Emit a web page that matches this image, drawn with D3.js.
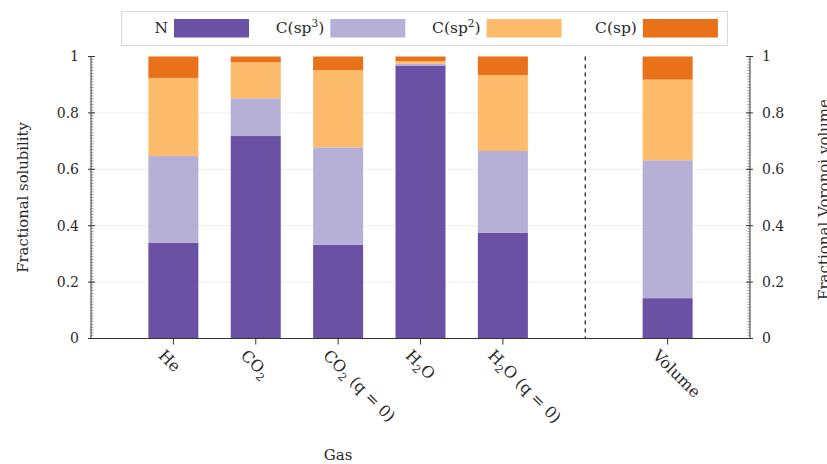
<!DOCTYPE html>
<html>
<head>
<meta charset="utf-8">
<script src="https://cdn.jsdelivr.net/npm/d3@7"></script>
<style>
  html, body { margin: 0; padding: 0; background: #fff; }
  svg { display: block; }
  text { font-family: "DejaVu Serif", "Liberation Serif", serif; fill: #2a2a2a; }
</style>
</head>
<body>
<svg id="chart" width="827" height="464"></svg>
<script>
// Gas categories (slot 5 is left empty for the dashed separator)
const categories = ["He", "CO2", "CO2 (q = 0)", "H2O", "H2O (q = 0)", "Volume"];
const slots = [0, 1, 2, 3, 4, 6];
const separatorSlot = 5;

// Series: fractional contribution of each site type
const seriesKeys = ["N", "Csp3", "Csp2", "Csp"];
const N    = [0.340, 0.718, 0.332, 0.968, 0.375, 0.143];
const Csp3 = [0.307, 0.134, 0.346, 0.006, 0.290, 0.489];
const Csp2 = [0.277, 0.127, 0.274, 0.010, 0.269, 0.286];
const Csp  = [0.076, 0.021, 0.048, 0.016, 0.066, 0.082];

const yTicks = [0, 0.2, 0.4, 0.6, 0.8, 1];
const colors = ["#6a51a3", "#b6b0d6", "#fdbb6c", "#e8711a"];

const svg = d3.select("#chart");
const plotLeft = 91, plotRight = 750, plotTop = 56.5, plotBottom = 338.5;

const x = d3.scaleLinear().domain([-1, 7]).range([plotLeft, plotRight]);
const y = d3.scaleLinear().domain([0, 1]).range([plotBottom, plotTop]);
const barW = x(0.607) - x(0);

// Faint horizontal grid
svg.append("g").selectAll("line")
  .data(yTicks.filter(d => d > 0 && d < 1))
  .join("line")
  .attr("x1", plotLeft).attr("x2", plotRight)
  .attr("y1", d => y(d)).attr("y2", d => y(d))
  .attr("stroke", "#eeeeee").attr("stroke-width", 1);

// Stacked bars
const rows = categories.map((c, i) => ({
  cat: c, slot: slots[i], N: N[i], Csp3: Csp3[i], Csp2: Csp2[i], Csp: Csp[i]
}));
const stacked = d3.stack().keys(seriesKeys)(rows);

svg.append("g").selectAll("g")
  .data(stacked)
  .join("g")
  .attr("fill", (d, i) => colors[i])
  .selectAll("rect")
  .data(d => d)
  .join("rect")
  .attr("x", d => x(d.data.slot) - barW / 2)
  .attr("width", barW)
  .attr("y", d => y(d[1]))
  .attr("height", d => y(d[0]) - y(d[1]));

// Dashed separator
svg.append("line")
  .attr("x1", x(separatorSlot)).attr("x2", x(separatorSlot))
  .attr("y1", y(1)).attr("y2", y(0))
  .attr("stroke", "#111").attr("stroke-width", 1.2)
  .attr("stroke-dasharray", "4,4");

// Left and right axes with dense minor ticks
const minor = d3.range(0, 1.0001, 0.01);
function drawYAxis(xPos, dir, labelSide) {
  const g = svg.append("g");
  g.append("line").attr("x1", xPos).attr("x2", xPos)
    .attr("y1", y(1)).attr("y2", y(0)).attr("stroke", "#333").attr("stroke-width", 1);
  g.selectAll("line.minor").data(minor).join("line").attr("class", "minor")
    .attr("x1", xPos).attr("x2", xPos + dir * 2.5)
    .attr("y1", d => y(d)).attr("y2", d => y(d))
    .attr("stroke", "#555").attr("stroke-width", 0.6);
  g.selectAll("line.major").data(yTicks).join("line").attr("class", "major")
    .attr("x1", xPos - dir * 3).attr("x2", xPos + dir * 4)
    .attr("y1", d => y(d)).attr("y2", d => y(d))
    .attr("stroke", "#333").attr("stroke-width", 1);
  g.selectAll("text").data(yTicks).join("text")
    .attr("x", xPos + labelSide * 12)
    .attr("y", d => y(d))
    .attr("dy", "0.35em")
    .attr("text-anchor", labelSide < 0 ? "end" : "start")
    .attr("font-size", 14)
    .text(d => d3.format("~g")(d));
}
drawYAxis(plotLeft, 1, -1);
drawYAxis(plotRight, -1, 1);

// Bottom axis
svg.append("line").attr("x1", plotLeft).attr("x2", plotRight)
  .attr("y1", plotBottom).attr("y2", plotBottom).attr("stroke", "#333");
svg.append("g").selectAll("line").data(slots).join("line")
  .attr("x1", d => x(d)).attr("x2", d => x(d))
  .attr("y1", plotBottom).attr("y2", plotBottom + 6)
  .attr("stroke", "#333");

// Rotated category labels with chemical subscripts
function addLabel(t, cat) {
  if (cat.startsWith("CO2")) {
    t.append("tspan").text("CO");
    t.append("tspan").attr("dy", 4).attr("font-size", 11).text("2");
    t.append("tspan").attr("dy", -4).text(cat.slice(3));
  } else if (cat.startsWith("H2O")) {
    t.append("tspan").text("H");
    t.append("tspan").attr("dy", 4).attr("font-size", 11).text("2");
    t.append("tspan").attr("dy", -4).text("O" + cat.slice(3));
  } else {
    t.text(cat);
  }
}
svg.append("g").selectAll("text").data(rows).join("text")
  .attr("transform", d => `translate(${x(d.slot) - 12},${plotBottom + 14}) rotate(45)`)
  .attr("font-size", 16)
  .attr("dy", "0.35em")
  .each(function(d) { addLabel(d3.select(this), d.cat); });

// Axis titles
svg.append("text")
  .attr("transform", `translate(28,${(plotTop + plotBottom) / 2}) rotate(-90)`)
  .attr("text-anchor", "middle").attr("font-size", 14.8)
  .text("Fractional solubility");
svg.append("text")
  .attr("transform", `translate(829,${(plotTop + plotBottom) / 2 + 2}) rotate(-90)`)
  .attr("text-anchor", "middle").attr("font-size", 15)
  .text("Fractional Voronoi volume");
svg.append("text")
  .attr("x", (x(0) + x(4)) / 2).attr("y", 460)
  .attr("text-anchor", "middle").attr("font-size", 15)
  .text("Gas");

// Legend
const legendLabels = [["N"], ["C(sp", "3", ")"], ["C(sp", "2", ")"], ["C(sp)"]];
const lg = svg.append("g");
lg.append("rect").attr("x", 121.5).attr("y", 11.5).attr("width", 606).attr("height", 34)
  .attr("fill", "#fff").attr("stroke", "#d8d8d8");
legendLabels.forEach((lab, i) => {
  const sx = 174 + i * 156.3;
  lg.append("rect").attr("x", sx).attr("y", 19).attr("width", 75).attr("height", 18.5)
    .attr("fill", colors[i]);
  const t = lg.append("text").attr("x", sx - 6).attr("y", 28).attr("dy", "0.35em")
    .attr("text-anchor", "end").attr("font-size", 15.5);
  t.append("tspan").text(lab[0]);
  if (lab.length > 1) {
    t.append("tspan").attr("dy", -6).attr("font-size", 10.5).text(lab[1]);
    t.append("tspan").attr("dy", 6).text(lab[2]);
  }
});
</script>
</body>
</html>
